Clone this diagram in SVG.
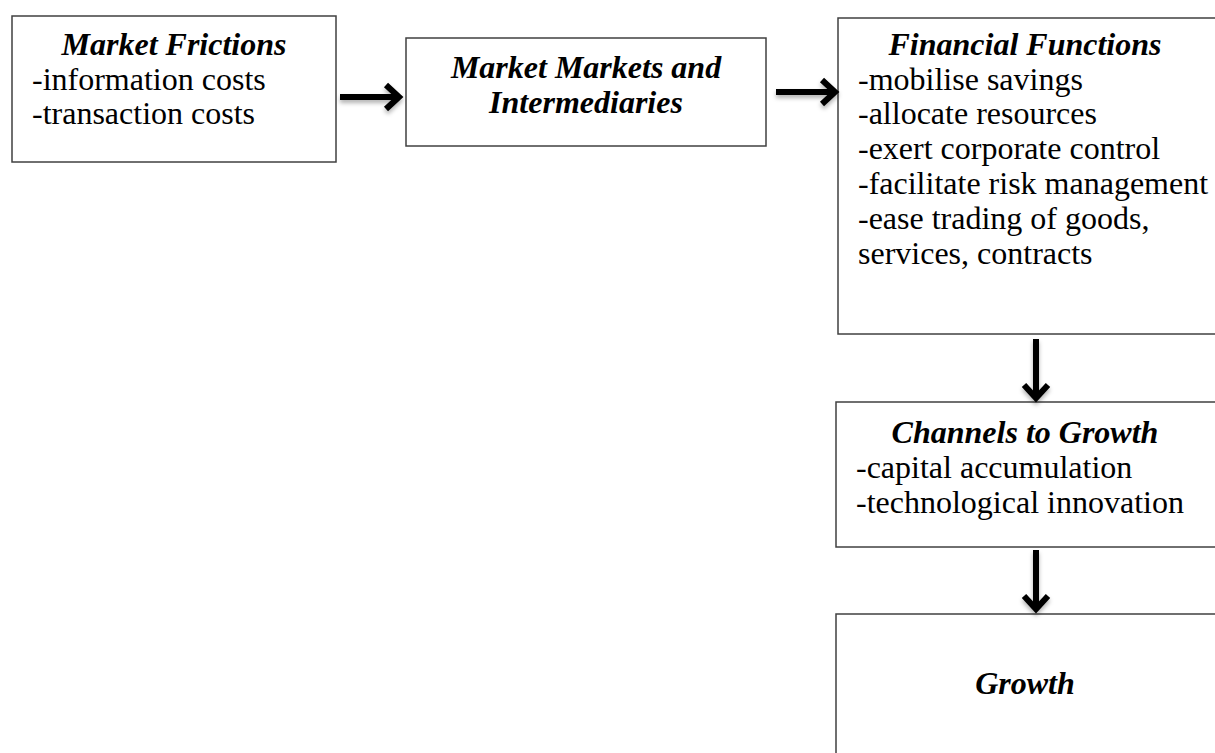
<svg xmlns="http://www.w3.org/2000/svg" width="1215" height="753" viewBox="0 0 1215 753">
<style>
.box{fill:#fff;stroke:#404040;stroke-width:1.5}
.t{font-family:"Liberation Serif","Times New Roman",serif;font-size:32px;fill:#000}
.h{font-weight:bold;font-style:italic;text-anchor:middle}
.c{stroke:#000;stroke-width:6;fill:none;stroke-linecap:butt;stroke-linejoin:miter}
</style>
<defs>
<filter id="sh" x="-20%" y="-20%" width="140%" height="160%">
<feDropShadow dx="0" dy="3" stdDeviation="2" flood-color="#000" flood-opacity="0.3"/>
</filter>
</defs>
<rect width="1215" height="753" fill="#fff"/>
<g id="market-frictions">
<rect class="box" x="12" y="16" width="324" height="146"/>
<text class="t h" x="174" y="55">Market Frictions</text>
<text class="t" x="32" y="90">-information costs</text>
<text class="t" x="32" y="124">-transaction costs</text>
</g>
<g id="markets-intermediaries">
<rect class="box" x="406" y="38" width="360" height="108"/>
<text class="t h" x="586" y="78">Market Markets and</text>
<text class="t h" x="586" y="113">Intermediaries</text>
</g>
<g id="financial-functions">
<rect class="box" x="838" y="18" width="380" height="316"/>
<text class="t h" x="1025" y="55">Financial Functions</text>
<text class="t" x="858" y="90">-mobilise savings</text>
<text class="t" x="858" y="124">-allocate resources</text>
<text class="t" x="858" y="159">-exert corporate control</text>
<text class="t" x="858" y="194">-facilitate risk management</text>
<text class="t" x="858" y="229">-ease trading of goods,</text>
<text class="t" x="858" y="264">services, contracts</text>
</g>
<g id="channels-to-growth">
<rect class="box" x="836" y="402" width="382" height="145"/>
<text class="t h" x="1025" y="443">Channels to Growth</text>
<text class="t" x="856" y="478">-capital accumulation</text>
<text class="t" x="856" y="513">-technological innovation</text>
</g>
<g id="growth">
<rect class="box" x="836" y="614" width="382" height="150"/>
<text class="t h" x="1025" y="694">Growth</text>
</g>
<g id="connectors" filter="url(#sh)">
<path class="c" d="M340 97H397M386 85L399 97L386 109"/>
<path class="c" d="M776 92H833M822 80L835 92L822 104"/>
<path class="c" d="M1036 339V396M1024 385L1036 398L1048 385"/>
<path class="c" d="M1036 550V607M1024 596L1036 609L1048 596"/>
</g>
</svg>
